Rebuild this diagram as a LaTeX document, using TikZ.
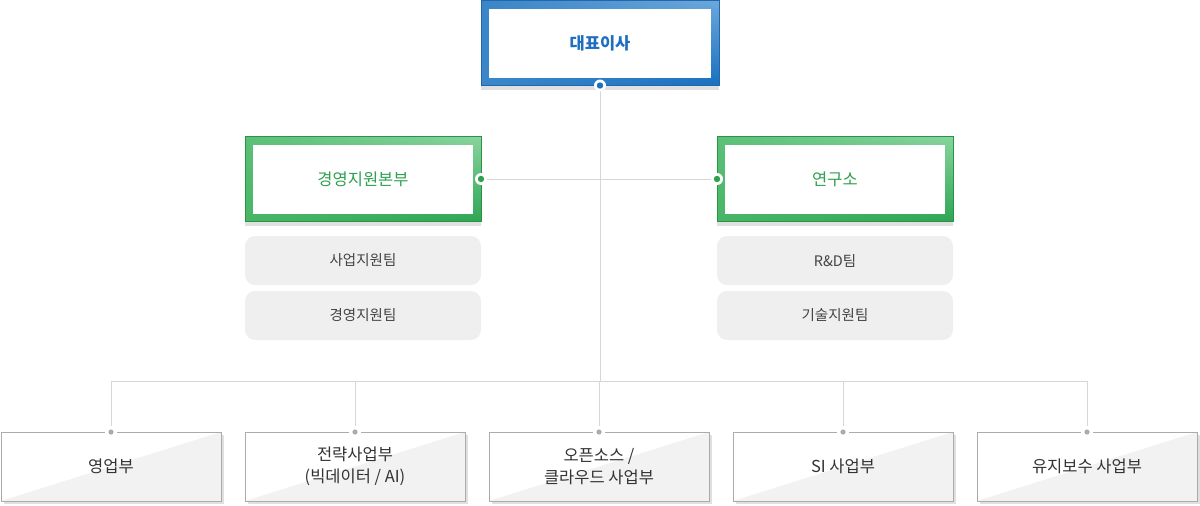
\documentclass[tikz,border=0pt]{standalone}
\usepackage{fontspec}
\setmainfont{Noto Sans CJK KR}
\usetikzlibrary{shadings}

\definecolor{ceoA}{HTML}{3A85C7}
\definecolor{ceoB}{HTML}{6CA8DB}
\definecolor{ceoC}{HTML}{3B87CA}
\definecolor{ceoD}{HTML}{1870C0}
\definecolor{ceoline}{HTML}{2366AE}
\definecolor{ceotext}{HTML}{1E6FBF}
\definecolor{grA}{HTML}{5CC078}
\definecolor{grB}{HTML}{88D49E}
\definecolor{grC}{HTML}{48B566}
\definecolor{grD}{HTML}{2EA554}
\definecolor{grline}{HTML}{2A9446}
\definecolor{grtext}{HTML}{2EA04F}
\definecolor{teamfill}{HTML}{EFEFEF}
\definecolor{teamtext}{HTML}{444444}
\definecolor{deptline}{HTML}{ABABAB}
\definecolor{deptfill}{HTML}{F2F2F2}
\definecolor{depttext}{HTML}{333333}
\definecolor{wire}{HTML}{D6D6D6}
\definecolor{dotgray}{HTML}{ABABAB}

\begin{document}
\begin{tikzpicture}[x=1pt,y=-1pt,
        framed/.style = {rectangle,
            inner sep=0pt, outer sep=0pt,
            line width=0.8pt,
            path picture={\fill[white]
                ([shift={(8pt,8pt)}]path picture bounding box.south west) rectangle
                ([shift={(-8pt,-8pt)}]path picture bounding box.north east);}},
        head/.style = {framed,
            minimum width=238pt, minimum height=85pt,
            draw=ceoline,
            upper left=ceoA, upper right=ceoB,
            lower left=ceoC, lower right=ceoD,
            preaction={fill=black!12, transform canvas={yshift=-4pt}},
            font=\fontsize{16.5}{20}\selectfont\bfseries, text=ceotext},
        division/.style = {framed,
            minimum width=236pt, minimum height=85pt,
            draw=grline,
            upper left=grA, upper right=grB,
            lower left=grC, lower right=grD,
            preaction={fill=black!12, transform canvas={yshift=-4pt}},
            font=\fontsize{16.5}{20}\selectfont, text=grtext},
        team/.style = {rectangle,
            rounded corners=10pt,
            minimum width=236pt, minimum height=49pt,
            fill=teamfill,
            font=\fontsize{14.5}{18}\selectfont, text=teamtext},
        dept/.style = {rectangle,
            inner sep=0pt, outer sep=0pt,
            minimum width=220pt, minimum height=69pt,
            draw=deptline, fill=white,
            preaction={fill=black!12, transform canvas={xshift=3pt,yshift=-3pt}},
            path picture={\fill[deptfill]
                (path picture bounding box.south west) --
                (path picture bounding box.north east) --
                (path picture bounding box.south east) -- cycle;},
            align=center,
            font=\fontsize{16.5}{22}\selectfont, text=depttext}]

    \useasboundingbox (0,0) rectangle (1200,506);

    % top
    \node[head] (ceo) at (600,43) {대표이사};

    % divisions
    \node[division] (mgmt) at (363,179) {경영지원본부};
    \node[division] (lab) at (835,179) {연구소};

    % teams
    \node[team] (mgmt1) at (363,260.5) {사업지원팀};
    \node[team] (mgmt2) at (363,315.5) {경영지원팀};
    \node[team] (lab1) at (835,260.5) {R\&D팀};
    \node[team] (lab2) at (835,315.5) {기술지원팀};

    % departments
    \node[dept] (sales) at (111,466.5) {영업부};
    \node[dept] (strategy) at (355,466.5) {전략사업부\\(빅데이터 / AI)};
    \node[dept] (cloud) at (599,466.5) {오픈소스 /\\클라우드 사업부};
    \node[dept] (si) at (843,466.5) {SI 사업부};
    \node[dept] (maint) at (1087,466.5) {유지보수 사업부};

    % connectors
    \coordinate (bus) at (600,381);
    \draw[wire, line width=1pt] (mgmt.east) -- (lab.west);
    \draw[wire, line width=1pt] (ceo.south) -- (bus);
    \foreach \d in {sales,strategy,cloud,si,maint}
        \draw[wire, line width=1pt] (bus) -| (\d.north);

    % dots
    \fill[white] (ceo.south) circle (6pt);
    \fill[ceotext] (ceo.south) circle (3.2pt);
    \fill[white] (mgmt.east) circle (6pt);
    \fill[grtext] (mgmt.east) circle (3.2pt);
    \fill[white] (lab.west) circle (6pt);
    \fill[grtext] (lab.west) circle (3.2pt);
    \foreach \d in {sales,strategy,cloud,si,maint} {
        \fill[white] (\d.north) circle (6pt);
        \fill[dotgray] (\d.north) circle (2.6pt);
    }

\end{tikzpicture}
\end{document}
